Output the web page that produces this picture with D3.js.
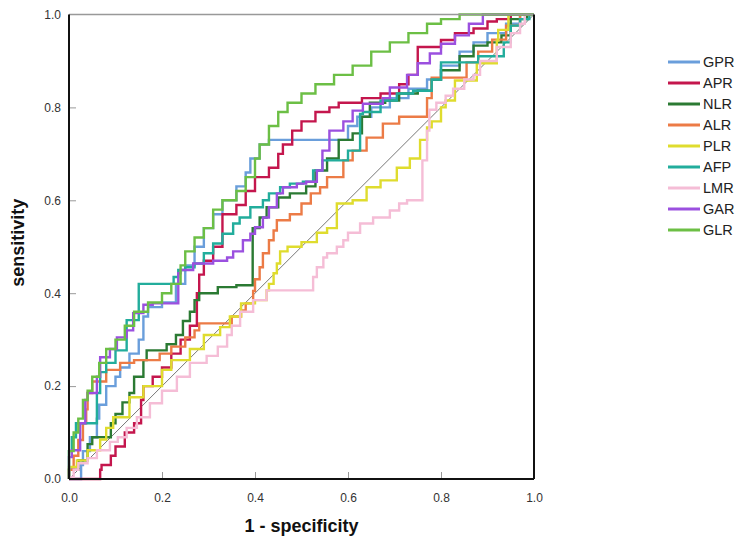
<!DOCTYPE html>
<html>
<head>
<meta charset="utf-8">
<script src="https://cdn.jsdelivr.net/npm/d3@7"></script>
<style>
  body { margin: 0; background: #fff; }
  #chart { width: 750px; height: 543px; }
  .tick text { font-family: "Liberation Sans", Arial, sans-serif; font-size: 12px; fill: #333; }
  .title { font-family: "Liberation Sans", Arial, sans-serif; font-size: 18px; font-weight: bold; fill: #111; }
  .legend text { font-family: "Liberation Sans", Arial, sans-serif; font-size: 14.5px; fill: #222; }
</style>
</head>
<body>
<div id="chart"></div>
<script>
// ROC points: [1 - specificity, sensitivity]
var GPR = [[0,0],[0.026,0],[0.03,0.03],[0.045,0.06],[0.06,0.09],[0.065,0.13],[0.08,0.16],[0.1,0.2],[0.11,0.22],[0.13,0.24],[0.15,0.27],[0.16,0.3],[0.17,0.35],[0.2,0.37],[0.23,0.38],[0.25,0.42],[0.27,0.46],[0.29,0.5],[0.31,0.54],[0.33,0.57],[0.36,0.6],[0.38,0.63],[0.39,0.66],[0.41,0.69],[0.43,0.72],[0.47,0.73],[0.6,0.73],[0.62,0.76],[0.65,0.78],[0.69,0.8],[0.73,0.82],[0.77,0.84],[0.8,0.86],[0.84,0.89],[0.87,0.92],[0.9,0.94],[0.94,0.96],[0.97,0.98],[1,1]];
var APR = [[0,0],[0.067,0],[0.07,0.02],[0.09,0.03],[0.1,0.05],[0.12,0.07],[0.14,0.1],[0.155,0.12],[0.16,0.17],[0.18,0.2],[0.2,0.22],[0.22,0.24],[0.24,0.27],[0.26,0.3],[0.275,0.33],[0.28,0.4],[0.29,0.44],[0.31,0.47],[0.33,0.5],[0.33,0.55],[0.36,0.57],[0.38,0.59],[0.4,0.62],[0.43,0.65],[0.45,0.67],[0.46,0.7],[0.48,0.72],[0.5,0.75],[0.53,0.77],[0.56,0.79],[0.58,0.8],[0.63,0.81],[0.67,0.82],[0.71,0.83],[0.73,0.85],[0.75,0.87],[0.77,0.93],[0.8,0.93],[0.83,0.945],[0.87,0.96],[0.9,0.97],[0.92,0.985],[0.95,0.99],[0.985,1],[1,1]];
var NLR = [[0,0],[0.02,0.02],[0.04,0.04],[0.05,0.075],[0.09,0.09],[0.1,0.12],[0.115,0.14],[0.13,0.165],[0.14,0.185],[0.16,0.22],[0.167,0.256],[0.21,0.277],[0.23,0.29],[0.245,0.31],[0.26,0.34],[0.27,0.36],[0.28,0.385],[0.32,0.4],[0.36,0.413],[0.395,0.417],[0.395,0.535],[0.41,0.54],[0.425,0.563],[0.45,0.585],[0.475,0.606],[0.51,0.615],[0.53,0.63],[0.555,0.664],[0.58,0.69],[0.61,0.73],[0.63,0.744],[0.647,0.78],[0.68,0.81],[0.71,0.815],[0.75,0.83],[0.78,0.836],[0.8,0.86],[0.84,0.88],[0.87,0.91],[0.9,0.933],[0.93,0.94],[0.95,0.955],[0.985,0.99],[1,1]];
var ALR = [[0,0],[0.01,0.02],[0.02,0.05],[0.03,0.084],[0.037,0.12],[0.04,0.15],[0.05,0.185],[0.08,0.21],[0.11,0.235],[0.14,0.25],[0.195,0.256],[0.22,0.27],[0.25,0.285],[0.27,0.305],[0.28,0.32],[0.3,0.335],[0.35,0.335],[0.37,0.35],[0.38,0.363],[0.396,0.378],[0.4,0.405],[0.41,0.43],[0.417,0.456],[0.43,0.486],[0.44,0.514],[0.447,0.535],[0.475,0.557],[0.5,0.57],[0.52,0.593],[0.54,0.615],[0.555,0.628],[0.59,0.65],[0.61,0.686],[0.64,0.707],[0.675,0.735],[0.71,0.765],[0.733,0.78],[0.77,0.78],[0.78,0.82],[0.78,0.864],[0.855,0.864],[0.88,0.897],[0.91,0.92],[0.94,0.946],[0.97,0.976],[0.99,1],[1,1]];
var PLR = [[0,0],[0.017,0.026],[0.04,0.04],[0.067,0.062],[0.08,0.085],[0.095,0.11],[0.13,0.133],[0.16,0.176],[0.2,0.2],[0.22,0.235],[0.26,0.256],[0.29,0.28],[0.325,0.31],[0.346,0.327],[0.37,0.35],[0.4,0.378],[0.425,0.385],[0.43,0.406],[0.44,0.42],[0.447,0.443],[0.454,0.464],[0.47,0.49],[0.5,0.5],[0.533,0.51],[0.555,0.53],[0.576,0.54],[0.61,0.593],[0.64,0.6],[0.67,0.628],[0.705,0.643],[0.733,0.67],[0.755,0.69],[0.77,0.73],[0.78,0.757],[0.8,0.77],[0.81,0.8],[0.83,0.815],[0.83,0.858],[0.877,0.858],[0.92,0.895],[0.923,0.944],[0.945,0.967],[0.945,1],[1,1]];
var AFP = [[0,0],[0,0.03],[0.006,0.06],[0.015,0.09],[0.024,0.12],[0.06,0.12],[0.067,0.185],[0.08,0.23],[0.1,0.25],[0.124,0.277],[0.124,0.342],[0.15,0.342],[0.15,0.42],[0.225,0.42],[0.235,0.435],[0.25,0.45],[0.27,0.456],[0.29,0.464],[0.31,0.486],[0.33,0.507],[0.353,0.528],[0.367,0.55],[0.39,0.563],[0.417,0.585],[0.43,0.6],[0.454,0.615],[0.475,0.628],[0.503,0.636],[0.525,0.64],[0.545,0.664],[0.555,0.686],[0.6,0.686],[0.626,0.707],[0.632,0.786],[0.67,0.79],[0.705,0.815],[0.74,0.83],[0.78,0.836],[0.8,0.86],[0.81,0.897],[0.88,0.897],[0.935,0.91],[0.95,0.94],[0.97,0.976],[0.99,0.99],[1,1]];
var LMR = [[0,0],[0.01,0.004],[0.02,0.02],[0.04,0.034],[0.06,0.045],[0.088,0.062],[0.105,0.08],[0.124,0.09],[0.146,0.11],[0.174,0.133],[0.2,0.163],[0.232,0.19],[0.26,0.22],[0.296,0.25],[0.32,0.265],[0.34,0.285],[0.35,0.31],[0.368,0.33],[0.396,0.36],[0.425,0.385],[0.454,0.406],[0.525,0.406],[0.533,0.435],[0.547,0.456],[0.555,0.477],[0.576,0.486],[0.59,0.5],[0.6,0.514],[0.626,0.53],[0.654,0.55],[0.69,0.563],[0.71,0.578],[0.727,0.593],[0.76,0.6],[0.77,0.686],[0.775,0.75],[0.79,0.795],[0.81,0.81],[0.826,0.825],[0.85,0.84],[0.87,0.86],[0.884,0.87],[0.92,0.9],[0.95,0.93],[0.97,0.96],[0.98,0.98],[1,1]];
var GAR = [[0,0],[0,0.03],[0.006,0.047],[0.024,0.062],[0.035,0.12],[0.04,0.17],[0.06,0.185],[0.067,0.22],[0.088,0.262],[0.103,0.28],[0.124,0.305],[0.138,0.32],[0.16,0.357],[0.18,0.375],[0.235,0.378],[0.24,0.443],[0.267,0.45],[0.31,0.464],[0.34,0.47],[0.353,0.477],[0.374,0.49],[0.39,0.514],[0.4,0.528],[0.417,0.542],[0.43,0.563],[0.447,0.585],[0.46,0.615],[0.49,0.628],[0.51,0.636],[0.533,0.64],[0.545,0.664],[0.56,0.707],[0.59,0.75],[0.61,0.77],[0.632,0.793],[0.675,0.808],[0.69,0.82],[0.727,0.843],[0.75,0.87],[0.776,0.895],[0.8,0.916],[0.83,0.937],[0.86,0.955],[0.89,0.98],[0.92,1],[1,1]];
var GLR = [[0,0],[0,0.03],[0.01,0.06],[0.02,0.1],[0.03,0.13],[0.04,0.17],[0.05,0.19],[0.065,0.22],[0.08,0.25],[0.1,0.28],[0.12,0.3],[0.14,0.33],[0.17,0.36],[0.2,0.38],[0.22,0.4],[0.24,0.42],[0.25,0.46],[0.27,0.49],[0.29,0.52],[0.31,0.54],[0.33,0.58],[0.36,0.6],[0.38,0.62],[0.4,0.65],[0.41,0.69],[0.43,0.72],[0.45,0.76],[0.47,0.79],[0.5,0.81],[0.53,0.83],[0.57,0.85],[0.61,0.87],[0.65,0.89],[0.69,0.92],[0.73,0.94],[0.77,0.96],[0.8,0.98],[0.84,0.99],[0.86,1],[1,1]];

var seriesNames = ["GPR","APR","NLR","ALR","PLR","AFP","LMR","GAR","GLR"];
var seriesData = [GPR, APR, NLR, ALR, PLR, AFP, LMR, GAR, GLR];
var seriesColors = ["#6a9edb","#c4164d","#2b7a33","#ec7b46","#dfdc2e","#22ad9c","#f5bdd6","#9b50df","#6cbf45"];
var tickValues = [0, 0.2, 0.4, 0.6, 0.8, 1.0];

// plot box
var margin = {top: 14.5, right: 216, bottom: 64, left: 69},
    width = 750 - margin.left - margin.right,
    height = 543 - margin.top - margin.bottom;

var x = d3.scaleLinear().domain([0, 1]).range([0, width]);
var y = d3.scaleLinear().domain([0, 1]).range([height, 0]);

var svg = d3.select("#chart").append("svg")
    .attr("width", 750)
    .attr("height", 543)
  .append("g")
    .attr("transform", "translate(" + margin.left + "," + margin.top + ")");

// reference diagonal
svg.append("line")
    .attr("x1", x(0)).attr("y1", y(0))
    .attr("x2", x(1)).attr("y2", y(1))
    .style("stroke", "#777")
    .style("stroke-width", 1);

var line = d3.line()
    .curve(d3.curveStepBefore)
    .x(function(d) { return x(d[0]); })
    .y(function(d) { return y(d[1]); });

seriesData.forEach(function(data, i) {
  svg.append("path")
      .datum(data)
      .attr("fill", "none")
      .style("stroke", seriesColors[i])
      .style("stroke-width", 2.4)
      .attr("d", line);
});

// axes, ticks pointing inward
var xAxis = svg.append("g")
    .attr("transform", "translate(0," + height + ")")
    .call(d3.axisBottom(x).tickValues(tickValues).tickFormat(d3.format(".1f")).tickSizeInner(-7).tickSizeOuter(0).tickPadding(14));
var yAxis = svg.append("g")
    .call(d3.axisLeft(y).tickValues(tickValues).tickFormat(d3.format(".1f")).tickSizeInner(-7).tickSizeOuter(0).tickPadding(8));

[xAxis, yAxis].forEach(function(a) {
  a.select(".domain").remove();
  a.selectAll(".tick line").style("stroke", "#999");
});
xAxis.selectAll(".tick").filter(function(d) { return d === 0 || d === 1; }).select("line").remove();
yAxis.selectAll(".tick").filter(function(d) { return d === 0 || d === 1; }).select("line").remove();

// frame: top is light grey, others black
svg.append("line").attr("x1", 0).attr("x2", width).attr("y1", 0).attr("y2", 0)
    .style("stroke", "#999").style("stroke-width", 1.5);
svg.append("line").attr("x1", 0).attr("x2", 0).attr("y1", 0).attr("y2", height)
    .style("stroke", "#111").style("stroke-width", 2);
svg.append("line").attr("x1", width).attr("x2", width).attr("y1", 0).attr("y2", height)
    .style("stroke", "#111").style("stroke-width", 2);
svg.append("line").attr("x1", 0).attr("x2", width).attr("y1", height).attr("y2", height)
    .style("stroke", "#111").style("stroke-width", 2);

// axis titles
svg.append("text")
    .attr("class", "title")
    .attr("text-anchor", "middle")
    .attr("x", width / 2)
    .attr("y", height + 53)
    .text("1 - specificity");
svg.append("text")
    .attr("class", "title")
    .attr("text-anchor", "middle")
    .attr("transform", "translate(" + (-45) + "," + (height / 2 - 4) + ") rotate(-90)")
    .text("sensitivity");

// legend
var legend = d3.select("#chart svg").append("g").attr("class", "legend");
seriesNames.forEach(function(name, i) {
  var ly = 62 + i * 21;
  legend.append("line")
      .attr("x1", 668).attr("x2", 700)
      .attr("y1", ly).attr("y2", ly)
      .style("stroke", seriesColors[i])
      .style("stroke-width", 3);
  legend.append("text")
      .attr("x", 703)
      .attr("y", ly)
      .attr("dy", "0.36em")
      .text(name);
});
</script>
</body>
</html>
